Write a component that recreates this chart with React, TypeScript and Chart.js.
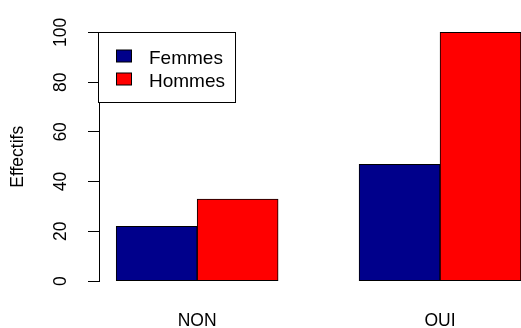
import React, { useEffect, useRef } from "react";
import { Chart, registerables } from "chart.js";

Chart.register(...registerables);

const categories = ["NON", "OUI"];
const seriesNames = ["Femmes", "Hommes"];
const femmes = [22, 47];
const hommes = [33, 100];
const yTicks = [0, 20, 40, 60, 80, 100];
const seriesColors = ["#00008B", "#FF0000"];
const yTitle = "Effectifs";

const FONT_FAMILY = "'Liberation Sans', Arial, sans-serif";

// R barplot(beside=TRUE) layout: bars of width 1, one empty unit between groups
const nSeries = 2;
const groupStart = (i: number) => 1 + i * (nSeries + 1);
const barCenter = (i: number, j: number) => groupStart(i) + j + 0.5;
const groupCenters = categories.map((_, i) => groupStart(i) + nSeries / 2);

const axisLinePlugin = {
  id: "axisLine",
  afterDraw(chart: any) {
    const { ctx, chartArea, scales } = chart;
    const y = scales.y;
    ctx.save();
    ctx.strokeStyle = "#000";
    ctx.lineWidth = 1;
    ctx.beginPath();
    const x = Math.round(chartArea.left) - 0.5;
    ctx.moveTo(x, y.getPixelForValue(yTicks[0]));
    ctx.lineTo(x, y.getPixelForValue(yTicks[yTicks.length - 1]));
    ctx.stroke();
    ctx.restore();
  },
};

const boxLegendPlugin = {
  id: "boxLegend",
  afterDraw(chart: any) {
    const { ctx, chartArea, scales } = chart;
    const ds = chart.data.datasets;
    ctx.save();
    ctx.font = `19px ${FONT_FAMILY}`;
    let maxW = 0;
    ds.forEach((d: any) => {
      maxW = Math.max(maxW, ctx.measureText(d.label).width);
    });
    const left = Math.round(chartArea.left) - 1.5;
    const top = Math.round(scales.y.getPixelForValue(yTicks[yTicks.length - 1])) + 0.5;
    const w = 50 + maxW + 11;
    const h = 70;
    ctx.fillStyle = "#fff";
    ctx.fillRect(left, top, w, h);
    ctx.strokeStyle = "#000";
    ctx.lineWidth = 1;
    ctx.strokeRect(left, top, w, h);
    ds.forEach((d: any, i: number) => {
      const cy = top + 23.5 + i * 23;
      ctx.fillStyle = d.backgroundColor;
      ctx.fillRect(left + 18, cy - 6, 15, 12);
      ctx.strokeStyle = "#000";
      ctx.strokeRect(left + 18, cy - 6, 15, 12);
      ctx.fillStyle = "#000";
      ctx.textBaseline = "alphabetic";
      ctx.textAlign = "left";
      ctx.fillText(d.label, left + 50.5, cy + 8);
    });
    ctx.restore();
  },
};

export default function App() {
  const ref = useRef<HTMLCanvasElement | null>(null);

  useEffect(() => {
    if (!ref.current) return;
    const axisFont = { family: FONT_FAMILY, size: 17.5 };
    const seriesData = [femmes, hommes];
    const chart = new Chart(ref.current, {
      type: "bar",
      data: {
        datasets: seriesNames.map((name, j) => ({
          label: name,
          data: seriesData[j].map((v, i) => ({ x: barCenter(i, j), y: v })),
          backgroundColor: seriesColors[j],
          borderColor: "#000",
          borderWidth: 1,
          borderSkipped: false,
        })),
      },
      options: {
        animation: false,
        responsive: false,
        maintainAspectRatio: false,
        layout: { padding: { top: 21, right: 0, left: 0, bottom: 0 } },
        datasets: {
          bar: { grouped: false, barPercentage: 1, categoryPercentage: 1 },
        },
        plugins: {
          legend: { display: false },
          tooltip: { enabled: false },
          title: { display: false },
        },
        scales: {
          x: {
            type: "linear",
            offset: false,
            bounds: "data",
            min: 0.8,
            max: 6.0,
            afterBuildTicks: (s: any) => {
              s.ticks = groupCenters.map((v) => ({ value: v }));
            },
            afterFit: (s: any) => {
              s.height = 37;
            },
            ticks: {
              callback: (_v: any, i: number) => categories[i],
              font: axisFont,
              color: "#000",
              padding: 12,
              maxRotation: 0,
              autoSkip: false,
            },
            grid: { display: false, offset: false },
            border: { display: false },
          },
          y: {
            type: "linear",
            min: -4,
            max: 104,
            afterBuildTicks: (s: any) => {
              s.ticks = yTicks.map((v) => ({ value: v }));
            },
            afterFit: (s: any) => {
              s.width = 100;
            },
            ticks: {
              minRotation: 90,
              maxRotation: 90,
              crossAlign: "center",
              padding: 12,
              font: axisFont,
              color: "#000",
            },
            grid: {
              drawOnChartArea: false,
              drawTicks: true,
              tickLength: 12,
              color: "#000",
              lineWidth: 1,
            },
            border: { display: false },
            title: {
              display: true,
              text: yTitle,
              font: axisFont,
              color: "#000",
              padding: { top: 8, bottom: 0 },
            },
          },
        },
      },
      plugins: [axisLinePlugin, boxLegendPlugin],
    } as any);
    return () => chart.destroy();
  }, []);

  return (
    <div style={{ position: "absolute", left: 0, top: 0, width: 521, height: 328, background: "#fff" }}>
      <canvas ref={ref} width={521} height={328} style={{ display: "block" }} />
    </div>
  );
}
